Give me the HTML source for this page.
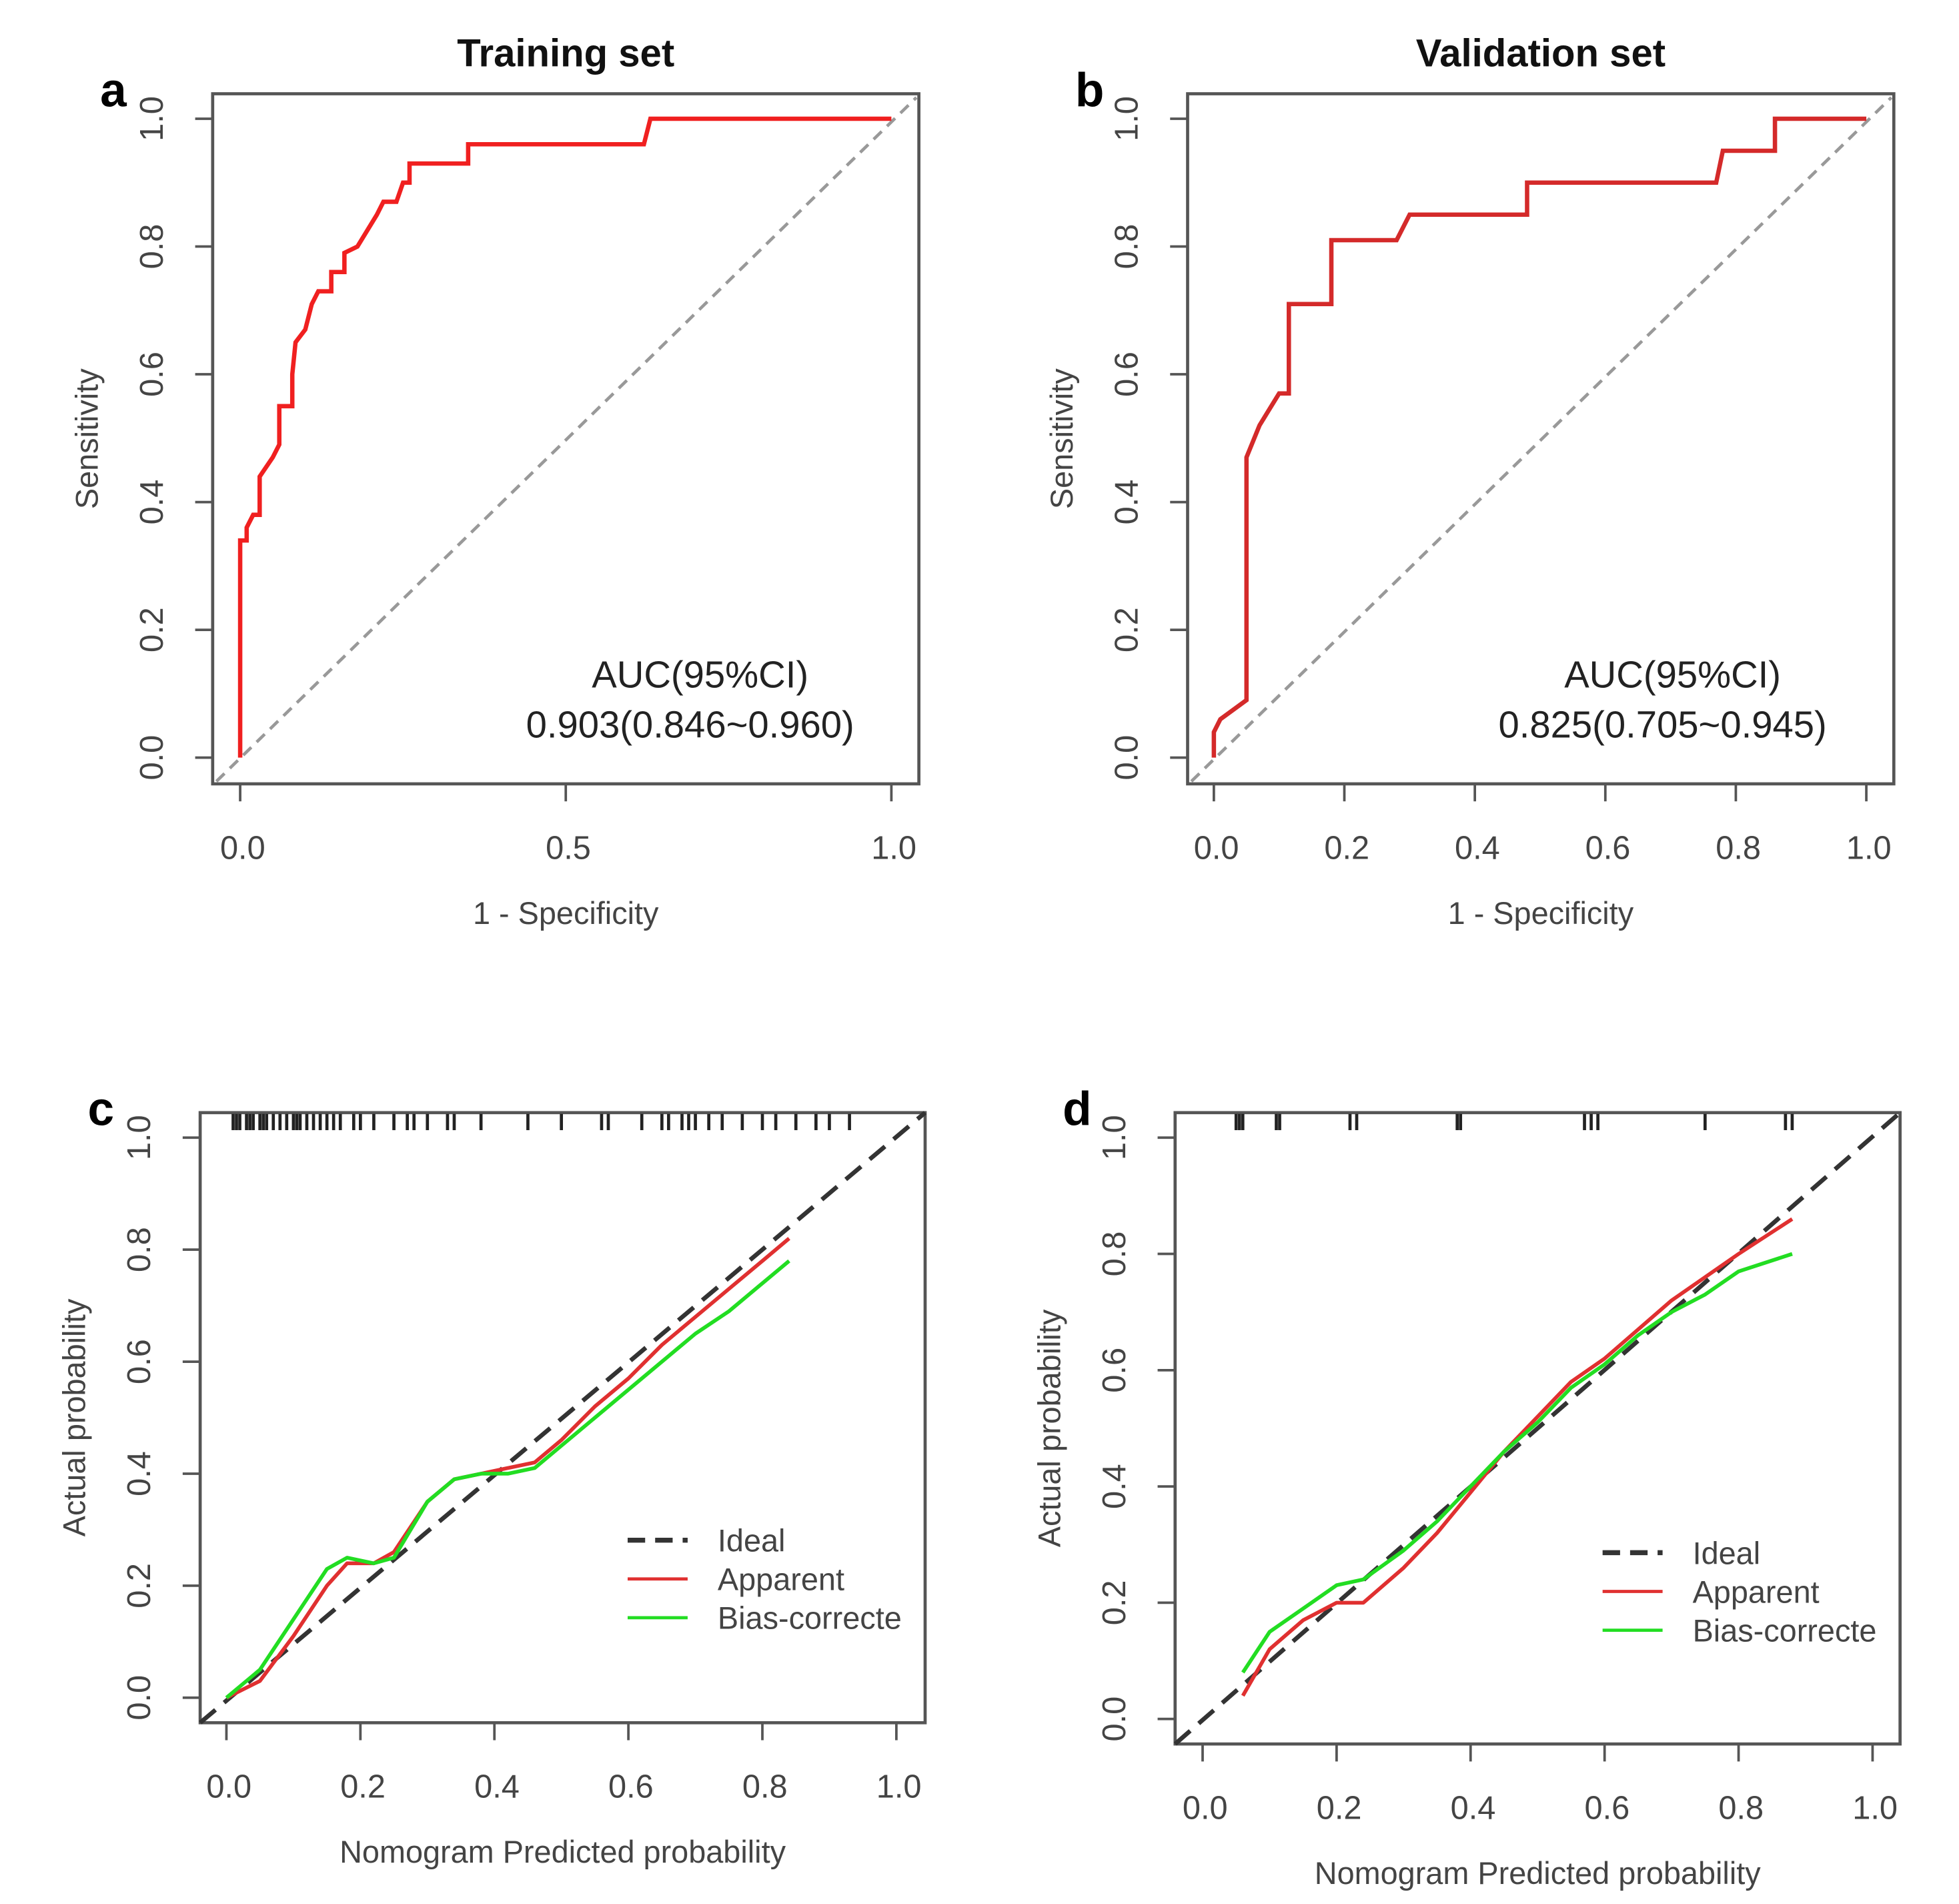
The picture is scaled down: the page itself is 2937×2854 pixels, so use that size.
<!DOCTYPE html>
<html><head><meta charset="utf-8"><style>
html,body{margin:0;padding:0;background:#fff}
svg{display:block}
text{font-family:"Liberation Sans",sans-serif}
</style></head><body>
<svg id="fig" width="2937" height="2854" viewBox="0 0 1567 1523" xmlns="http://www.w3.org/2000/svg"></svg>
<script>
// ---- data ----
const rocA_fpr=[0,0,0.01,0.01,0.02,0.03,0.03,0.05,0.06,0.06,0.08,0.08,0.085,0.1,0.11,0.12,0.14,0.14,0.16,0.16,0.18,0.21,0.22,0.24,0.25,0.26,0.26,0.35,0.35,0.62,0.63,1];
const rocA_tpr=[0,0.34,0.34,0.36,0.38,0.38,0.44,0.47,0.49,0.55,0.55,0.60,0.65,0.67,0.71,0.73,0.73,0.76,0.76,0.79,0.80,0.85,0.87,0.87,0.90,0.90,0.93,0.93,0.96,0.96,1.0,1.0];
const rocB_fpr=[0,0,0.01,0.05,0.05,0.07,0.10,0.115,0.115,0.18,0.18,0.28,0.30,0.48,0.48,0.77,0.78,0.86,0.86,1];
const rocB_tpr=[0,0.04,0.06,0.09,0.47,0.52,0.57,0.57,0.71,0.71,0.81,0.81,0.85,0.85,0.90,0.90,0.95,0.95,1.0,1.0];
const calC_x=[0,0.05,0.1,0.15,0.18,0.22,0.25,0.3,0.34,0.38,0.42,0.46,0.5,0.55,0.6,0.65,0.7,0.75,0.8,0.84];
const calC_app=[0,0.03,0.11,0.20,0.24,0.24,0.26,0.35,0.39,0.40,0.41,0.42,0.46,0.52,0.57,0.63,0.68,0.73,0.78,0.82];
const calC_bias=[0,0.05,0.14,0.23,0.25,0.24,0.25,0.35,0.39,0.40,0.40,0.41,0.45,0.50,0.55,0.60,0.65,0.69,0.74,0.78];
const calD_x=[0.06,0.1,0.15,0.2,0.24,0.3,0.35,0.4,0.45,0.5,0.55,0.6,0.65,0.7,0.75,0.8,0.88];
const calD_app=[0.04,0.12,0.17,0.2,0.2,0.26,0.32,0.39,0.46,0.52,0.58,0.62,0.67,0.72,0.76,0.80,0.86];
const calD_bias=[0.08,0.15,0.19,0.23,0.24,0.29,0.34,0.40,0.46,0.51,0.57,0.61,0.66,0.70,0.73,0.77,0.80];
const rugC=[0.01,0.015,0.02,0.03,0.035,0.04,0.05,0.055,0.06,0.07,0.08,0.09,0.1,0.105,0.11,0.12,0.13,0.14,0.15,0.16,0.17,0.19,0.2,0.22,0.25,0.27,0.28,0.3,0.33,0.34,0.38,0.45,0.5,0.56,0.57,0.62,0.65,0.66,0.68,0.69,0.7,0.72,0.74,0.77,0.8,0.82,0.85,0.88,0.9,0.93];
const rugD=[0.05,0.055,0.06,0.11,0.115,0.22,0.23,0.38,0.385,0.57,0.58,0.59,0.75,0.87,0.88];
const ticksHalf=[0,0.5,1];
const ticksFifth=[0,0.2,0.4,0.6,0.8,1];

const svg=document.getElementById('fig');
const NS='http://www.w3.org/2000/svg';
function mk(tag,attrs,parent,name){const e=document.createElementNS(NS,tag);for(const k in attrs)e.setAttribute(k,attrs[k]);


(parent||svg).appendChild(e);return e;}
function txt(s,x,y,attrs,name,parent){const t=mk('text',Object.assign({x:x,y:y},attrs),parent,name);t.textContent=s;return t;}

function panel(cfg){
  const g=mk('g',{},svg,cfg.id);
  const sx=v=>cfg.x0+(cfg.x1-cfg.x0)*v, sy=v=>cfg.y0+(cfg.y1-cfg.y0)*v;
  mk('rect',{x:cfg.bx,y:cfg.by,width:cfg.bw,height:cfg.bh,fill:'none',stroke:'#555','stroke-width':2.5},g,'plot-frame');
  cfg.xt.forEach(v=>{mk('line',{x1:sx(v),x2:sx(v),y1:cfg.by+cfg.bh,y2:cfg.by+cfg.bh+14,stroke:'#555','stroke-width':2},g,'x-tick');
    txt(v.toFixed(1),sx(v)+2,cfg.by+cfg.bh+60,{'font-size':26,fill:'#444','text-anchor':'middle'},'x-tick-label',g);});
  cfg.yt.forEach(v=>{mk('line',{y1:sy(v),y2:sy(v),x1:cfg.bx,x2:cfg.bx-14,stroke:'#555','stroke-width':2},g,'y-tick');
    txt(v.toFixed(1),0,0,{'font-size':26,fill:'#444','text-anchor':'middle',transform:`translate(${cfg.bx-40},${sy(v)}) rotate(-90)`},'y-tick-label',g);});
  txt(cfg.xlab,(cfg.bx+cfg.bx+cfg.bw)/2,cfg.by+cfg.bh+112,{'font-size':25,fill:'#444','text-anchor':'middle'},'x-axis-title',g);
  txt(cfg.ylab,0,0,{'font-size':25,fill:'#444','text-anchor':'middle',transform:`translate(${cfg.bx-92},${cfg.by+cfg.bh/2}) rotate(-90)`},'y-axis-title',g);
  txt(cfg.letter,cfg.bx-90,cfg.by+10,{'font-size':38,'font-weight':'bold','font-family':'Liberation Serif, serif',fill:'#000'},'panel-letter',g);
  if(cfg.title)txt(cfg.title,(cfg.bx+cfg.bx+cfg.bw)/2,cfg.by-22,{'font-size':31,'font-weight':'bold',fill:'#111','text-anchor':'middle'},'chart-title',g);
  return {g,sx,sy};
}
function line(p,xs,ys,attrs,name){const d=xs.map((v,i)=>(i?'L':'M')+p.sx(v).toFixed(1)+','+p.sy(ys[i]).toFixed(1)).join(' ');
  return mk('path',Object.assign({d:d,fill:'none'},attrs),p.g,name);}

let pa=panel({id:'panel-a-roc-training',bx:170,by:75,bw:565,bh:552,x0:192,x1:713,y0:606,y1:95,xt:ticksHalf,yt:ticksFifth,xlab:'1 - Specificity',ylab:'Sensitivity',letter:'a',title:'Training set'});
mk('line',{x1:173,y1:625,x2:733,y2:78,stroke:'#999','stroke-width':2.5,'stroke-dasharray':'9,6'},pa.g,'reference-diagonal');
line(pa,rocA_fpr,rocA_tpr,{stroke:'#f02020','stroke-width':3.5},'roc-curve');
txt('AUC(95%CI)',560,550,{'font-size':30,'font-family':'Liberation Serif, serif',fill:'#222','text-anchor':'middle'},'auc-label',pa.g);
txt('0.903(0.846~0.960)',552,590,{'font-size':30,'font-family':'Liberation Serif, serif',fill:'#222','text-anchor':'middle'},'auc-value',pa.g);

let pb=panel({id:'panel-b-roc-validation',bx:950,by:75,bw:565,bh:552,x0:971,x1:1493,y0:606,y1:95,xt:ticksFifth,yt:ticksFifth,xlab:'1 - Specificity',ylab:'Sensitivity',letter:'b',title:'Validation set'});
mk('line',{x1:953,y1:625,x2:1513,y2:78,stroke:'#999','stroke-width':2.5,'stroke-dasharray':'9,6'},pb.g,'reference-diagonal');
line(pb,rocB_fpr,rocB_tpr,{stroke:'#d42a2a','stroke-width':3.5},'roc-curve');
txt('AUC(95%CI)',1338,550,{'font-size':30,'font-family':'Liberation Serif, serif',fill:'#222','text-anchor':'middle'},'auc-label',pb.g);
txt('0.825(0.705~0.945)',1330,590,{'font-size':30,'font-family':'Liberation Serif, serif',fill:'#222','text-anchor':'middle'},'auc-value',pb.g);

function calib(p,cfg,xs,app,bias,rug){
  rug.forEach(v=>mk('line',{x1:p.sx(v),x2:p.sx(v),y1:cfg.by+1,y2:cfg.by+14,stroke:'#222','stroke-width':2.5},p.g,'rug-tick'));
  mk('line',{x1:cfg.bx,y1:cfg.by+cfg.bh,x2:cfg.bx+cfg.bw,y2:cfg.by,stroke:'#333','stroke-width':3.5,'stroke-dasharray':'16,9'},p.g,'ideal-line');
  line(p,xs,app,{stroke:'#e03030','stroke-width':3,'stroke-linejoin':'round'},'apparent-line');
  line(p,xs,bias,{stroke:'#22dd22','stroke-width':3,'stroke-linejoin':'round'},'bias-corrected-line');
  const lx=cfg.lx,ly=cfg.ly;
  mk('line',{x1:lx,x2:lx+48,y1:ly,y2:ly,stroke:'#333','stroke-width':4,'stroke-dasharray':'14,8'},p.g,'legend-ideal-swatch');
  txt('Ideal',lx+72,ly+9,{'font-size':25,fill:'#444'},'legend-ideal-label',p.g);
  mk('line',{x1:lx,x2:lx+48,y1:ly+31,y2:ly+31,stroke:'#e03030','stroke-width':2.5},p.g,'legend-apparent-swatch');
  txt('Apparent',lx+72,ly+40,{'font-size':25,fill:'#444'},'legend-apparent-label',p.g);
  mk('line',{x1:lx,x2:lx+48,y1:ly+62,y2:ly+62,stroke:'#22dd22','stroke-width':2.5},p.g,'legend-bias-swatch');
  txt('Bias-correcte',lx+72,ly+71,{'font-size':25,fill:'#444'},'legend-bias-label',p.g);
}
const cC={id:'panel-c-calibration-training',bx:160,by:890,bw:580,bh:488,x0:181,x1:717,y0:1358,y1:910,xt:ticksFifth,yt:[0,0.2,0.4,0.6,0.8,1],xlab:'Nomogram Predicted probability',ylab:'Actual probability',letter:'c',lx:502,ly:1232};
let pc=panel(cC); calib(pc,cC,calC_x,calC_app,calC_bias,rugC);
const cD={id:'panel-d-calibration-validation',bx:940,by:890,bw:580,bh:505,x0:962,x1:1498,y0:1375,y1:910,xt:ticksFifth,yt:[0,0.2,0.4,0.6,0.8,1],xlab:'Nomogram Predicted probability',ylab:'Actual probability',letter:'d',lx:1282,ly:1242};
let pd=panel(cD); calib(pd,cD,calD_x,calD_app,calD_bias,rugD);
</script>
</body></html>
